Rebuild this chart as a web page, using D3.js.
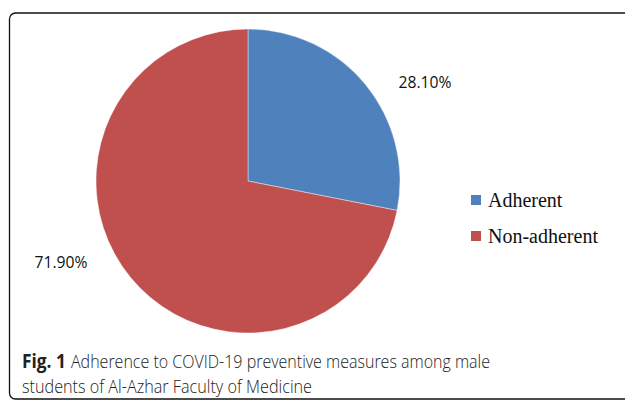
<!DOCTYPE html>
<html>
<head>
<meta charset="utf-8">
<script src="https://cdn.jsdelivr.net/npm/d3@7"></script>
<style>
  body { margin: 0; background: #fff; }
  svg { display: block; }
</style>
</head>
<body>
<div id="viz"></div>
<script>
var categories = ["Adherent", "Non-adherent"];
var values = [28.1, 71.9];
var value_labels = ["28.10%", "71.90%"];
var colours = ["#4F81BD", "#C0504D"];

var width = 625, height = 402;
var cx = 248, cy = 181, radius = 152;

var svg = d3.select("#viz")
  .append("svg")
  .attr("width", width)
  .attr("height", height);

// frame of the figure box
svg.append("rect")
  .attr("x", 9.5)
  .attr("y", 13)
  .attr("width", 640)
  .attr("height", 386)
  .attr("rx", 6)
  .attr("fill", "none")
  .attr("stroke", "#111")
  .attr("stroke-width", 1.3);

var pie = d3.pie().sort(null).value(function(d) { return d; });
var arc = d3.arc().innerRadius(0).outerRadius(radius);
var slices = pie(values);

var g = svg.append("g").attr("transform", "translate(" + cx + "," + cy + ")");

g.selectAll("path")
  .data(slices)
  .enter()
  .append("path")
  .attr("d", arc)
  .attr("fill", function(d, i) { return colours[i]; })
  .attr("stroke", "#fff")
  .attr("stroke-width", 0.4);

// data labels sit outside the slices
var label_pos = [[425, 88], [61, 268]];
svg.selectAll("text.value")
  .data(value_labels)
  .enter()
  .append("text")
  .attr("class", "value")
  .attr("x", function(d, i) { return label_pos[i][0]; })
  .attr("y", function(d, i) { return label_pos[i][1]; })
  .attr("text-anchor", "middle")
  .attr("font-family", "'Open Sans', sans-serif")
  .attr("font-size", 16)
  .attr("textLength", 53)
  .attr("lengthAdjust", "spacingAndGlyphs")
  .attr("fill", "#111")
  .text(function(d) { return d; });

// legend
var legend = svg.selectAll("g.legend")
  .data(categories)
  .enter()
  .append("g")
  .attr("class", "legend")
  .attr("transform", function(d, i) { return "translate(471," + (195 + i * 36) + ")"; });

legend.append("rect")
  .attr("width", 10)
  .attr("height", 10)
  .attr("fill", function(d, i) { return colours[i]; });

legend.append("text")
  .attr("x", 17)
  .attr("y", 12)
  .attr("font-family", "'Liberation Serif', 'Times New Roman', serif")
  .attr("font-size", 20)
  .attr("fill", "#111")
  .text(function(d) { return d; });

// caption
function caption(x, y, len, weight, txt) {
  svg.append("text")
    .attr("x", x)
    .attr("y", y)
    .attr("font-family", "'Open Sans', sans-serif")
    .attr("font-size", 19)
    .attr("font-weight", weight)
    .attr("fill", "#222")
    .attr("textLength", len)
    .attr("lengthAdjust", "spacingAndGlyphs")
    .text(txt);
}
caption(22, 368, 44, "bold", "Fig. 1");
caption(71, 368, 419, 300, "Adherence to COVID-19 preventive measures among male");
caption(22, 393, 290, 300, "students of Al-Azhar Faculty of Medicine");
</script>
</body>
</html>
